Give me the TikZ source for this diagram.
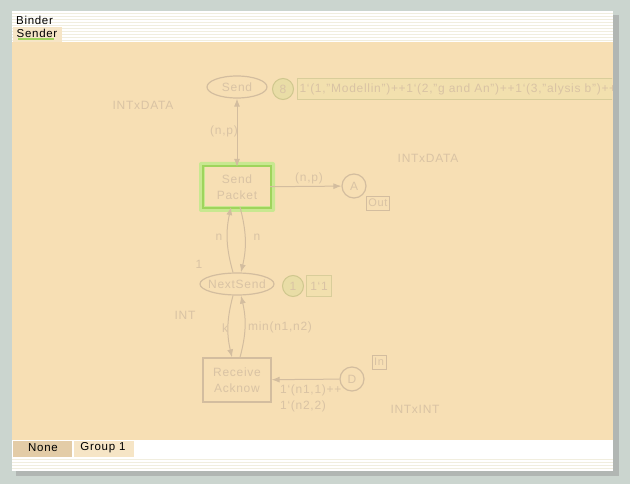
\documentclass[tikz,border=0pt]{standalone}
\usepackage{fontspec}
\setmainfont{Liberation Sans}[LetterSpace=6]
\usetikzlibrary{arrows.meta,shapes.geometric}

\definecolor{deskbg}{HTML}{CBD5CF}
\definecolor{sheet}{HTML}{F7DFB4}
\definecolor{stripe}{HTML}{F1EEDF}
\definecolor{netline}{HTML}{D3BD9F}
\definecolor{nettext}{HTML}{D9C3A4}
\definecolor{tokfill}{HTML}{E9DDA6}
\definecolor{tokline}{HTML}{CFC78E}
\definecolor{markfill}{HTML}{F2E0AE}
\definecolor{markline}{HTML}{D9CD9A}
\definecolor{glowout}{HTML}{C8E890}
\definecolor{glowin}{HTML}{9FD45C}
\definecolor{tabdark}{HTML}{E3CCA7}
\definecolor{tablight}{HTML}{F6E5C6}

\newcommand\bq{\char96\relax}

\begin{document}
\begin{tikzpicture}[x=1pt,y=-1pt,
  every node/.style={font=\fontsize{12}{16}\selectfont},
  place/.style={ellipse,draw=netline,line width=1.2pt,text=nettext,inner ysep=0pt,inner xsep=-3pt},
  port/.style={circle,draw=netline,line width=1.2pt,text=nettext,inner sep=0pt,minimum size=24pt},
  trans/.style={rectangle,draw=netline,line width=1.2pt,text=nettext,align=center,
    minimum width=68pt,minimum height=44pt,inner sep=0pt},
  lbl/.style={text=nettext,inner sep=0pt},
  tag/.style={rectangle,draw=netline,text=nettext,inner sep=2pt,minimum height=14pt,font=\fontsize{11}{13}\selectfont},
  token/.style={circle,draw=tokline,fill=tokfill,text=nettext,line width=1pt,inner sep=0pt,minimum size=21pt},
  marking/.style={rectangle,draw=markline,fill=markfill,text=nettext,line width=1pt,inner sep=2pt,minimum height=21pt},
  arc/.style={draw=netline,line width=1pt,-{Latex[length=8pt,width=6pt]}}]

\useasboundingbox (0,0) rectangle (630,484);
\fill[deskbg] (0,0) rectangle (630,484);

% window with shadow
\fill[black!40,opacity=0.5] (16,15) rectangle (619,476);
\fill[white] (12,11) rectangle (613,471);
\foreach \y in {14,17,...,41} \draw[stripe,line width=1pt] (12,\y) -- (613,\y);
\foreach \y in {459,462,...,470} \draw[stripe,line width=1pt] (12,\y) -- (613,\y);
\fill[sheet] (12,42) rectangle (613,440);

% tabs
\node[anchor=west,inner sep=0pt,font=\fontsize{11.5}{13}\selectfont] (binder) at (16,20) {Binder};
\fill[tablight] (13,27) rectangle (62,42);
\node[inner sep=0pt,font=\fontsize{11.5}{13}\selectfont] (sender) at (37,33) {Sender};
\draw[glowin,line width=1.5pt] (18,39) -- (54,39);
\fill[tabdark] (13,441) rectangle (72,457);
\node[inner sep=0pt,font=\fontsize{11.5}{13}\selectfont] (none) at (43,448) {None};
\fill[tablight] (74,441) rectangle (134,457);
\node[inner sep=0pt,font=\fontsize{11.5}{13}\selectfont] (group) at (103,448) {Group 1};

\begin{scope}
\clip (12,42) rectangle (612,440);

% places
\node[place,minimum width=60pt,minimum height=22pt] (send) at (237,87) {Send};
\node[place,minimum width=74pt,minimum height=22pt] (nextsend) at (237,284) {NextSend};
\node[port] (A) at (354,186) {A};
\node[port] (D) at (352,379) {D};

% transitions
\fill[glowout,rounded corners=2pt] (199,162) rectangle (275,212);
\draw[glowin,line width=2.5pt] (203,166) rectangle (271,208);
\node[trans,draw=none,fill=sheet,minimum width=65pt,minimum height=39pt] (sendpk) at (237,187) {Send\\Packet};
\node[trans] (recv) at (237,380) {Receive\\Acknow};

% colour sets and port tags
\node[lbl] (cs1) at (143,105) {INTxDATA};
\node[lbl] (cs2) at (428,158) {INTxDATA};
\node[lbl] (cs3) at (185,315) {INT};
\node[lbl] (cs4) at (415,409) {INTxINT};
\node[tag] (outtag) at (378,203) {Out};
\node[tag] (intag) at (379,362) {In};
\node[lbl] (init) at (199,264) {1};

% markings
\node[token] (tok1) at (283,89) {8};
\node[marking,anchor=west] (mark1) at (297,89) {1\bq(1,"Modellin")++1\bq(2,"g and An")++1\bq(3,"alysis b")++};
\node[token] (tok2) at (293,286) {1};
\node[marking,anchor=west,minimum width=25pt] (mark2) at (306,286) {1\bq1};

% arcs
\draw[arc,{Latex[length=8pt,width=6pt]}-{Latex[length=8pt,width=6pt]}] (send) -- (sendpk);
\draw[arc] (sendpk) -- (A);
\draw[arc] ([xshift=-4pt]nextsend.north) to[bend left=14] ([xshift=-6pt]sendpk.south);
\draw[arc] ([xshift=3pt]sendpk.south) to[bend left=14] ([xshift=4pt]nextsend.north);
\draw[arc] ([xshift=-4pt]nextsend.south) to[bend right=14] ([xshift=-5pt]recv.north);
\draw[arc] ([xshift=3pt]recv.north) to[bend right=14] ([xshift=4pt]nextsend.south);
\draw[arc] (D) -- (recv);

% arc inscriptions
\node[lbl] (i1) at (224,131) {(n,p)};
\node[lbl] (i2) at (309,178) {(n,p)};
\node[lbl] (i3) at (219,237) {n};
\node[lbl] (i4) at (257,237) {n};
\node[lbl] (i5) at (225,328) {k};
\node[lbl] (i6) at (280,327) {min(n1,n2)};
\node[lbl,anchor=west,align=left] (i7) at (280,398) {1\bq(n1,1)++\\1\bq(n2,2)};
\end{scope}
\end{tikzpicture}
\end{document}
